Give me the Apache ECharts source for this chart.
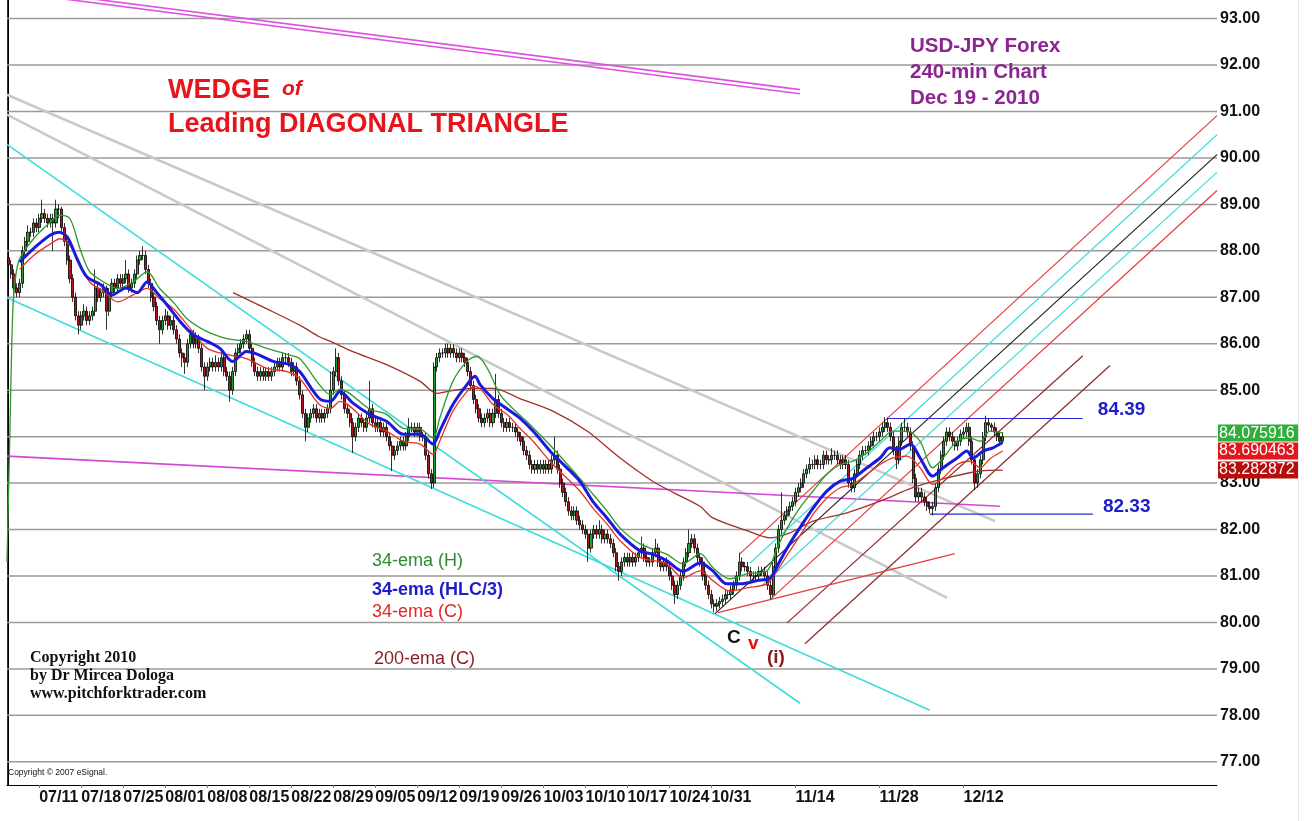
<!DOCTYPE html>
<html><head><meta charset="utf-8">
<script src="https://cdn.jsdelivr.net/npm/echarts@6/dist/echarts.min.js"></script>
<style>html,body{margin:0;padding:0;background:#fff}#c{width:1312px;height:821px}</style>
</head><body><div id="c"></div>
<script>
// ---------- DATA ----------
const N_SLOTS = 432; // 8h bar slots incl. empty right area
const weekLabels = ['07/11','07/18','07/25','08/01','08/08','08/15','08/22','08/29','09/05','09/12','09/19','09/26','10/03','10/10','10/17','10/24','10/31','11/14','11/28','12/12'];
const weekLabelIdx = [11,26,41,56,71,86,101,116,131,146,161,176,191,206,221,236,251,281,311,341];
const yTicks = [77,78,79,80,81,82,83,84,85,86,87,88,89,90,91,92,93];
const firstOpen = 87.85;
const closes = [
87.7,87.5,87.2,87.1,87.3,88.0,88.2,88.4,88.4,88.6,88.5,88.7,88.8,88.7,88.6,88.7,88.6,88.9,88.9,88.5,
88.2,87.8,87.4,87.0,86.6,86.4,86.6,86.7,86.5,86.6,86.7,87.2,87.0,87.1,87.2,86.7,87.1,87.3,87.2,87.4,
87.3,87.4,87.5,87.2,87.3,87.5,87.8,87.9,87.9,87.6,87.3,87.0,86.8,86.5,86.3,86.5,86.6,86.4,86.5,86.3,
86.1,85.8,85.7,85.6,86.0,86.2,86.0,86.1,85.9,85.5,85.3,85.5,85.6,85.5,85.6,85.5,85.7,85.4,85.3,85.0,
85.4,85.8,85.9,86.0,86.1,86.2,85.9,85.6,85.4,85.3,85.4,85.3,85.4,85.3,85.4,85.5,85.6,85.5,85.7,85.7,
85.6,85.4,85.5,85.2,84.9,84.5,84.2,84.4,84.5,84.6,84.4,84.5,84.4,84.5,84.6,85.0,85.4,85.7,85.2,84.9,
84.6,84.5,84.3,84.0,84.2,84.4,84.3,84.2,84.4,84.6,84.3,84.2,84.3,84.1,84.2,84.0,83.8,83.6,83.7,83.8,
83.9,83.8,84.0,84.2,84.2,84.1,84.2,84.0,84.0,83.6,83.2,83.0,85.5,85.7,85.8,85.8,85.9,85.8,85.9,85.8,
85.7,85.8,85.7,85.6,85.4,85.1,84.8,84.6,84.4,84.3,84.4,84.5,84.3,84.5,84.8,84.5,84.3,84.2,84.3,84.2,
84.2,84.1,84.0,83.9,83.7,83.6,83.4,83.3,83.4,83.3,83.4,83.3,83.4,83.3,83.5,83.6,83.3,83.0,82.8,82.6,
82.4,82.3,82.4,82.2,82.1,82.0,81.9,81.6,81.9,82.0,81.9,82.0,81.8,81.9,81.8,81.7,81.5,81.2,81.1,81.3,
81.4,81.3,81.4,81.3,81.4,81.5,81.6,81.4,81.3,81.3,81.5,81.6,81.3,81.2,81.3,81.2,81.0,80.8,80.6,80.8,
81.0,81.3,81.5,81.7,81.8,81.6,81.4,81.3,81.0,80.8,80.6,80.4,80.35,80.4,80.45,80.5,80.6,80.6,80.7,80.8,
81.0,81.3,81.2,81.2,81.1,81.0,81.0,81.0,81.1,81.1,81.0,80.8,80.6,81.2,81.6,82.0,82.2,82.3,82.4,82.5,
82.6,82.8,82.9,83.0,83.2,83.3,83.4,83.4,83.5,83.4,83.4,83.6,83.5,83.5,83.6,83.6,83.5,83.4,83.5,83.4,
83.0,82.9,83.2,83.4,83.6,83.7,83.7,83.8,83.9,84.0,84.0,84.1,84.2,84.3,84.2,84.0,83.7,83.5,83.9,84.2,
84.2,84.1,83.8,83.1,82.7,82.8,82.7,82.6,82.5,82.45,82.5,82.9,83.3,83.6,83.9,84.1,84.0,83.9,83.8,83.9,
84.05,84.1,84.2,83.9,83.5,83.0,83.2,83.5,84.0,84.3,84.25,84.2,84.1,84.0,83.9,84.0];
const highs = [
87.95,87.8,87.6,87.3,87.4,88.1,88.3,88.55,88.5,88.7,88.7,88.8,89.1,88.9,88.8,88.8,88.8,89.1,89.0,88.95,
88.6,88.3,87.9,87.5,87.1,86.7,86.7,86.85,86.8,86.7,86.8,87.6,87.3,87.2,87.3,87.25,87.2,87.4,87.4,87.5,
87.5,87.5,87.8,87.6,87.4,87.6,87.9,88.0,88.1,88.0,87.7,87.4,87.1,86.9,86.6,86.6,86.75,86.7,86.6,86.6,
86.4,86.2,85.9,85.8,86.1,86.3,86.3,86.25,86.2,86.0,85.6,85.6,85.7,85.7,85.75,85.7,85.85,85.8,85.5,85.4,
85.5,85.9,86.0,86.1,86.2,86.3,86.3,86.0,85.7,85.5,85.5,85.5,85.5,85.5,85.5,85.6,85.7,85.7,85.8,85.8,
85.8,85.7,85.6,85.6,85.3,85.0,84.6,84.5,84.6,84.7,84.7,84.6,84.6,84.6,84.7,85.4,85.5,85.9,85.8,85.3,
85.0,84.7,84.6,84.4,84.3,84.5,84.5,84.4,84.5,85.2,84.7,84.4,84.4,84.4,84.3,84.3,84.1,83.9,83.8,83.9,
84.0,84.0,84.1,84.4,84.3,84.3,84.3,84.3,84.1,84.1,83.7,83.3,85.6,85.8,85.9,85.9,86.0,86.0,86.0,86.0,
85.9,85.9,85.9,85.8,85.7,85.5,85.2,84.9,84.7,84.5,84.5,84.6,84.6,84.6,85.35,84.9,84.6,84.4,84.4,84.4,
84.3,84.3,84.2,84.1,84.0,83.8,83.7,83.5,83.5,83.5,83.5,83.5,83.5,83.5,83.6,84.0,83.7,83.4,83.1,82.9,
82.7,82.5,82.5,82.5,82.3,82.2,82.1,82.0,82.0,82.1,82.1,82.2,82.1,82.0,82.0,81.9,81.8,81.6,81.3,81.4,
81.5,81.5,81.5,81.5,81.5,81.6,81.85,81.7,81.5,81.4,81.6,81.8,81.7,81.4,81.4,81.4,81.3,81.1,80.9,80.9,
81.1,81.4,81.6,82.0,81.9,81.9,81.7,81.5,81.4,81.1,80.9,80.7,80.5,80.5,80.55,80.6,80.7,80.7,80.8,80.9,
81.1,81.5,81.4,81.3,81.3,81.2,81.1,81.1,81.2,81.2,81.2,81.1,80.9,81.3,81.7,82.1,82.8,82.4,82.5,82.6,
82.7,82.9,83.0,83.1,83.3,83.4,83.55,83.5,83.6,83.6,83.5,83.7,83.7,83.6,83.75,83.7,83.7,83.6,83.6,83.6,
83.5,83.1,83.3,83.5,83.7,83.8,83.8,83.9,84.0,84.1,84.1,84.2,84.3,84.42,84.4,84.3,84.1,83.8,84.0,84.3,
84.4,84.3,84.2,83.9,83.2,82.9,82.9,82.8,82.7,82.6,82.6,83.0,83.4,83.7,84.0,84.2,84.2,84.1,84.0,84.0,
84.15,84.2,84.3,84.3,84.0,83.6,83.3,83.6,84.1,84.45,84.4,84.3,84.3,84.2,84.1,84.1];
const lows = [
87.6,87.4,87.05,87.0,87.0,87.2,87.9,88.1,88.3,88.3,88.4,88.4,88.6,88.6,88.5,88.5,88.0,88.5,88.7,88.4,
88.1,87.7,87.3,86.9,86.5,86.2,86.3,86.5,86.4,86.4,86.5,86.6,86.9,86.9,87.0,86.3,86.6,87.0,87.1,87.1,
87.2,87.2,87.3,87.1,87.1,87.2,87.4,87.7,87.8,87.5,87.2,86.9,86.7,86.4,86.0,86.2,86.4,86.3,86.3,86.2,
86.0,85.7,85.5,85.35,85.5,85.9,85.9,85.9,85.8,85.4,85.0,85.2,85.4,85.4,85.4,85.4,85.4,85.3,85.2,84.75,
84.9,85.3,85.7,85.8,85.9,86.0,85.8,85.5,85.3,85.2,85.2,85.2,85.2,85.2,85.2,85.3,85.4,85.4,85.4,85.6,
85.5,85.3,85.3,85.1,84.8,84.4,83.9,84.1,84.3,84.4,84.3,84.3,84.3,84.3,84.4,84.5,84.9,85.3,85.1,84.8,
84.5,84.4,84.2,83.65,83.9,84.1,84.2,84.1,84.1,84.3,84.2,84.1,84.1,84.0,84.0,83.9,83.7,83.26,83.5,83.6,
83.7,83.7,83.7,83.9,84.1,84.0,84.0,83.9,83.9,83.5,83.1,82.87,82.9,85.4,85.6,85.7,85.7,85.7,85.7,85.7,
85.6,85.6,85.6,85.5,85.3,85.0,84.7,84.5,84.3,84.2,84.2,84.3,84.2,84.2,84.4,84.4,84.2,84.1,84.1,84.1,
84.1,84.0,83.9,83.8,83.6,83.5,83.3,83.2,83.2,83.2,83.2,83.2,83.2,83.2,83.2,83.4,83.2,82.9,82.7,82.5,
82.3,82.2,82.2,82.1,82.0,81.9,81.8,81.3,81.5,81.8,81.8,81.8,81.7,81.7,81.7,81.6,81.4,81.1,80.9,81.0,
81.2,81.2,81.2,81.2,81.2,81.3,81.4,81.3,81.2,81.2,81.2,81.4,81.2,81.1,81.1,81.1,80.9,80.7,80.4,80.5,
80.7,80.9,81.2,81.4,81.6,81.5,81.3,81.2,80.9,80.7,80.5,80.3,80.22,80.25,80.3,80.35,80.4,80.5,80.5,80.6,
80.7,80.9,81.1,81.1,81.0,80.9,80.9,80.9,80.9,81.0,80.9,80.7,80.5,80.55,81.1,81.5,81.9,82.1,82.2,82.3,
82.4,82.5,82.7,82.8,82.9,83.1,83.2,83.3,83.3,83.3,83.3,83.3,83.4,83.4,83.4,83.5,83.4,83.3,83.3,83.3,
82.9,82.8,82.8,83.1,83.3,83.5,83.6,83.6,83.7,83.8,83.9,83.9,84.0,84.1,84.1,83.9,83.6,83.3,83.4,83.8,
84.1,84.0,83.7,83.0,82.6,82.6,82.6,82.5,82.4,82.35,82.3,82.4,82.8,83.2,83.5,83.8,83.9,83.8,83.7,83.7,
83.8,83.95,84.0,83.8,83.4,82.85,82.9,83.1,83.4,83.9,84.1,84.1,84.0,83.9,83.8,83.85];

// indicator lines: [bar slot, price]
const ema34High = [[-0.5,81.3],[0.5,84.0],[1.5,86.6],[2.5,87.4],[4,87.83],[9,88.26],[15,88.62],[18.4,88.77],[22,88.69],[25.6,88.04],[29,87.55],[34,87.33],[39,87.19],[44.5,87.33],[49.5,87.55],[54,87.19],[58.8,86.9],[63.8,86.54],[71,86.26],[78,86.11],[85,86.05],[92.3,85.9],[99.5,85.77],[104,85.68],[111,85.12],[115,84.9],[118.4,85.02],[129,84.59],[135,84.48],[141,84.18],[147,84.16],[151.6,83.97],[154,84.4],[158.7,85.19],[163.7,85.62],[167.3,85.73],[171,85.47],[175.5,84.91],[180,84.61],[185,84.33],[194.4,83.75],[204,83.1],[208.7,82.76],[213.7,82.4],[218.4,82.03],[225.5,81.69],[235,81.47],[240.8,81.26],[247,81.48],[251.5,81.18],[257.6,80.94],[264,81.05],[270.8,81.11],[274.4,81.6],[278,82.03],[282.5,82.46],[287.3,82.83],[292.2,83.19],[297,83.4],[301.5,83.47],[306.5,83.65],[311.2,83.9],[315.8,84.12],[320.8,84.12],[325.5,83.9],[330,83.33],[333.7,83.54],[338.7,83.9],[343.3,83.97],[347,83.9],[350.4,84.12],[355,84.08]];
const ema34Hlc = [[4,87.76],[9,88.05],[15,88.34],[18,88.4],[21,88.3],[24.5,87.83],[28,87.44],[33,87.27],[37,87.05],[42,87.2],[46,87.1],[49.5,87.33],[53,87.1],[56.6,86.84],[61.3,86.48],[65.9,86.2],[71,86.05],[75.5,85.9],[80,85.62],[85,85.83],[89,85.77],[94.5,85.62],[100.5,85.55],[104,85.4],[111,84.82],[115,84.76],[118.4,84.97],[123,84.72],[129,84.48],[135,84.33],[141,84.05],[147,84.05],[151.6,83.84],[154,84.12],[158.7,84.69],[163.7,85.12],[166.6,85.3],[168.4,85.12],[173,84.82],[178,84.6],[182.6,84.4],[187.3,84.12],[194.4,83.62],[197,83.47],[204,83.04],[208.7,82.6],[213.7,82.25],[218.4,81.9],[225.5,81.54],[230,81.47],[235,81.33],[240.8,81.1],[247,81.28],[251.5,81.11],[256.5,80.83],[261.5,80.83],[267.3,80.9],[272,80.96],[275.5,81.33],[279,81.7],[282.5,82.03],[287.3,82.46],[292.2,82.83],[297,83.04],[301.5,83.1],[306.5,83.33],[311.2,83.54],[314.7,83.76],[318.3,83.73],[322,83.84],[325.5,83.54],[330,83.15],[333.7,83.33],[338.7,83.54],[342.2,83.69],[344.4,83.54],[348,83.69],[351.5,83.76],[355,83.88]];
const ema34Close = [[4,87.6],[9,87.9],[15,88.15],[18.4,88.26],[22,88.12],[25.6,87.7],[29,87.33],[34,87.12],[39,86.9],[44.5,87.05],[49.5,87.19],[54,86.97],[58.8,86.76],[63.8,86.41],[71,85.9],[78,85.77],[85,85.68],[92.3,85.47],[99.5,85.4],[104,85.25],[111,84.69],[115,84.61],[118.4,84.76],[129,84.27],[135,84.12],[141,83.9],[147,83.84],[151.6,83.62],[154,83.9],[158.7,84.55],[163.7,84.97],[166.6,85.08],[169.4,84.97],[173,84.69],[178,84.48],[182.6,84.18],[187.3,83.9],[194.4,83.4],[204,82.83],[208.7,82.46],[213.7,82.12],[218.4,81.76],[225.5,81.4],[235,81.26],[240.8,80.96],[247,81.11],[251.5,80.9],[257.6,80.68],[264,80.75],[270.8,80.83],[274.4,81.11],[279,81.54],[283.7,81.97],[287.3,82.33],[292.2,82.68],[297,82.9],[301.5,82.97],[306.5,83.19],[311.2,83.4],[315.8,83.54],[320.8,83.58],[325.5,83.33],[330,82.97],[333.7,83.11],[338.7,83.4],[343.3,83.47],[347,83.33],[350.4,83.52],[355,83.69]];
const ema200Close = [[80.2,87.1],[92.3,86.75],[104,86.4],[111,86.15],[115,86.05],[123,85.83],[135,85.55],[147,85.19],[153,84.93],[156.6,84.97],[164.8,85.04],[173,85.04],[182.6,84.82],[194.4,84.55],[206.6,84.12],[218.4,83.54],[230,83.04],[237.3,82.8],[246.9,82.5],[251.5,82.25],[264,81.97],[271.9,81.82],[279,81.93],[287.3,82.18],[299.4,82.36],[311.2,82.61],[322.9,82.9],[335.1,83.11],[346.9,83.26],[355,83.28]];

// hand-drawn trend lines: [bar slot, price]
const magentaTop1 = [[-0.5,93.66],[282.6,91.47]];
const magentaTop2 = [[-0.5,93.58],[282.6,91.38]];
const magentaLow = [[-0.5,83.58],[354.0,82.5]];
const grayLine1 = [[-0.5,91.36],[352.2,82.18]];
const grayLine2 = [[-0.5,90.93],[335.1,80.53]];
const cyanLine1 = [[-0.5,90.29],[282.6,78.26]];
const cyanLine2 = [[-0.5,86.99],[329.0,78.11]];
const forkUpper = [[261.2,81.48],[431.5,90.91]];
const forkQuarterUp = [[264.8,81.28],[431.5,90.5]];
const forkMedian = [[252.3,80.19],[431.5,90.07]];
const forkQuarterLow = [[269.0,80.79],[431.5,89.69]];
const forkLower = [[271.9,80.49],[431.5,89.3]];
const warningLine1 = [[278.0,79.99],[383.6,85.74]];
const warningLine2 = [[284.4,79.54],[393.3,85.53]];
const triggerLine = [[253.3,80.21],[337.9,81.48]];
const resistanceLine = [[313.7,84.39],[383.6,84.39]];
const supportLine = [[329.0,82.33],[387.2,82.33]];
const lastValues = [84.075916, 83.690463, 83.282872];

// ---------- CHART ----------
const SANS = 'Liberation Sans, Arial, sans-serif';
const SERIF = 'Liberation Serif, Times New Roman, serif';
const opens = closes.map((c, i) => i ? closes[i - 1] : firstOpen);
const candleData = closes.map((c, i) => [opens[i], c, lows[i], highs[i]]);
const categories = Array.from({length: N_SLOTS}, (_, i) => String(i));
const labelMap = {};
weekLabelIdx.forEach((idx, k) => labelMap[idx] = weekLabels[k]);

function seg(data, color, width, z, extra) {
  return Object.assign({type: 'line', xAxisIndex: 1, yAxisIndex: 0, data: data, showSymbol: false, symbol: 'none',
    silent: true, z: z, lineStyle: {color: color, width: width}, animation: false}, extra || {});
}

const series = [];
yTicks.forEach(v => series.push(seg([[-0.5, v], [N_SLOTS - 0.5, v]], '#9a9a9a', 1.5, 1)));
series.push(seg(magentaTop1, '#e050e0', 1.6, 3));
series.push(seg(magentaTop2, '#e050e0', 1.6, 3));
series.push(seg(magentaLow, '#d548d5', 1.6, 3));
series.push(seg(grayLine1, '#c9c9c9', 2.5, 2));
series.push(seg(grayLine2, '#c9c9c9', 2.5, 2));
series.push(seg(cyanLine1, '#3fdcdc', 1.6, 3));
series.push(seg(cyanLine2, '#3fdcdc', 1.6, 3));
series.push(seg(forkUpper, '#e63a3a', 1.2, 3));
series.push(seg(forkQuarterUp, '#3fdcdc', 1.2, 3));
series.push(seg(forkMedian, '#222222', 1.2, 3));
series.push(seg(forkQuarterLow, '#3fdcdc', 1.2, 3));
series.push(seg(forkLower, '#e63a3a', 1.2, 3));
series.push(seg(warningLine1, '#8e2a2a', 1.2, 3));
series.push(seg(warningLine2, '#8e2a2a', 1.2, 3));
series.push(seg(triggerLine, '#e63a3a', 1.2, 3));
series.push(seg(resistanceLine, '#2a2ad8', 1.2, 3, {endLabel: {show: true, formatter: '84.39', color: '#1c1ccf', fontSize: 19, fontWeight: 'bold', fontFamily: SANS, distance: 15, offset: [0, -9]}}));
series.push(seg(supportLine, '#2a2ad8', 1.2, 3, {endLabel: {show: true, formatter: '82.33', color: '#1c1ccf', fontSize: 19, fontWeight: 'bold', fontFamily: SANS, distance: 10, offset: [0, -7]}}));

series.push({type: 'candlestick', xAxisIndex: 0, yAxisIndex: 0, data: candleData, barWidth: 2.6, z: 5, silent: true, animation: false,
  itemStyle: {color: '#1e9e2e', color0: '#b0141a', borderColor: '#000', borderColor0: '#000', borderWidth: 0.8}});

series.push(seg(ema200Close, '#a3302a', 1.3, 6, {smooth: 0.3}));
series.push(seg(ema34High, '#2e9a2e', 1.3, 7, {smooth: 0.3}));
series.push(seg(ema34Close, '#e8312a', 1.3, 7, {smooth: 0.3}));
series.push(seg(ema34Hlc, '#1a1adc', 3, 8, {smooth: 0.3}));

function T(x, y, text, size, color, weight, family, fstyle) {
  return {type: 'text', x: x, y: y, z: 50, silent: true,
    style: {text: text, fill: color, fontSize: size, fontWeight: weight || 'normal', fontStyle: fstyle || 'normal',
      fontFamily: family || SANS, verticalAlign: 'middle', align: 'left'}};
}
const baseGraphics = [
  {type: 'line', shape: {x1: 1298.5, y1: 0, x2: 1298.5, y2: 821}, style: {stroke: '#e2e2e2', lineWidth: 1}, silent: true},
  T(168, 91, 'WEDGE', 27, '#e8141c', 'bold'),
  T(282, 89, 'of', 21, '#e8141c', 'bold', SANS, 'italic'),
  T(168, 125, 'Leading DIAGONAL TRIANGLE', 27, '#e8141c', 'bold'),
  T(910, 46, 'USD-JPY Forex', 20.5, '#8b2590', 'bold'),
  T(910, 72, '240-min Chart', 20.5, '#8b2590', 'bold'),
  T(910, 98, 'Dec 19 - 2010', 20.5, '#8b2590', 'bold'),
  T(372, 561, '34-ema (H)', 18, '#2e8b2e'),
  T(372, 590, '34-ema (HLC/3)', 18, '#1c1ccc', 'bold'),
  T(372, 612, '34-ema (C)', 18, '#e02828'),
  T(374, 659, '200-ema (C)', 18, '#8b1e1e'),
  T(30, 658, 'Copyright 2010', 16, '#111', 'bold', SERIF),
  T(30, 676, 'by Dr Mircea Dologa', 16, '#111', 'bold', SERIF),
  T(30, 694, 'www.pitchforktrader.com', 16, '#111', 'bold', SERIF),
  T(8, 773, 'Copyright \u00a9 2007 eSignal.', 8.5, '#111'),
  T(727, 638, 'C', 19, '#111', 'bold'),
  T(748, 644, 'v', 19, '#e01010', 'bold'),
  T(767, 658, '(i)', 19, '#8b1a1a', 'bold')
];

const option = {
  backgroundColor: '#fff',
  animation: false,
  grid: {left: 7, right: 95, top: -3, bottom: 36, show: false},
  xAxis: [
    {type: 'category', data: categories, boundaryGap: true,
      axisLine: {lineStyle: {color: '#000', width: 1}},
      axisTick: {show: true, length: 3, alignWithLabel: true, interval: (i) => labelMap[i] !== undefined, lineStyle: {color: '#777'}},
      axisLabel: {interval: (i) => labelMap[i] !== undefined, formatter: (v, i) => labelMap[i] || '', align: 'left', margin: 5,
        fontSize: 16, fontWeight: 'bold', color: '#111', fontFamily: SANS},
      splitLine: {show: false}},
    {type: 'value', min: -0.5, max: N_SLOTS - 0.5, show: false, splitLine: {show: false}}
  ],
  yAxis: [
    {type: 'value', position: 'right', min: 76.5, max: 93.4, interval: 0.5,
      axisLine: {show: true, lineStyle: {color: '#000', width: 1}}, axisTick: {show: false}, splitLine: {show: false},
      axisLabel: {formatter: (v) => Number.isInteger(v) ? v.toFixed(2) : '', margin: 3, fontSize: 16, fontWeight: 'bold', color: '#111', fontFamily: SANS}},
    {type: 'value', position: 'left', min: 76.5, max: 93.4, interval: 0.5,
      axisLine: {show: true, lineStyle: {color: '#333', width: 1}}, axisTick: {show: false}, splitLine: {show: false}, axisLabel: {show: false}}
  ],
  series: series,
  graphic: baseGraphics
};

const chart = echarts.init(document.getElementById('c'), null, {renderer: 'canvas'});
chart.setOption(option);

const boxColors = ['#2fae3a', '#e3161b', '#b80d0d'];
const boxes = [];
let prevY = -1e9;
lastValues.forEach((v, k) => {
  let y = chart.convertToPixel({yAxisIndex: 0}, v);
  if (y < prevY + 17) y = prevY + 17;
  prevY = y;
  boxes.push({type: 'rect', shape: {x: 1218, y: y - 8.5, width: 80, height: 17}, style: {fill: boxColors[k]}, z: 60, silent: true});
  boxes.push({type: 'text', x: 1219, y: y, z: 61, silent: true,
    style: {text: v.toFixed(6), fill: '#fff', fontSize: 16, fontFamily: SANS, verticalAlign: 'middle', align: 'left'}});
});
chart.setOption({graphic: baseGraphics.concat(boxes)});
</script>
</body></html>
